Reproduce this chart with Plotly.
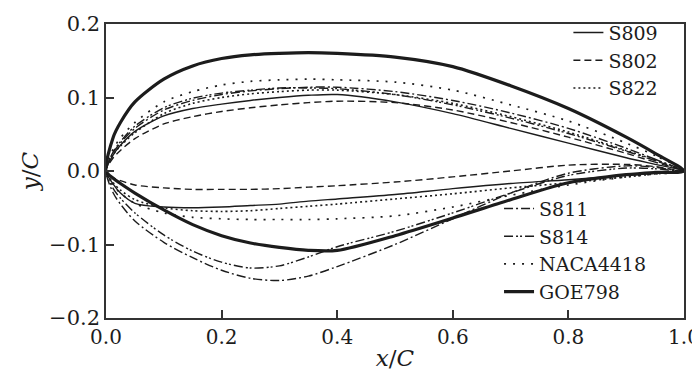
import plotly.graph_objects as go

# chordwise stations (x/C)
X = [0, 0.0125, 0.025, 0.05, 0.1, 0.15, 0.2, 0.25, 0.3, 0.35, 0.4, 0.5, 0.6, 0.7, 0.8, 0.9, 0.95, 1.0]

s809_upper = [0, 0.022, 0.035, 0.054, 0.075, 0.085, 0.091, 0.096, 0.100, 0.103, 0.104, 0.094, 0.078, 0.058, 0.038, 0.018, 0.009, 0]
s809_lower = [0, -0.018, -0.030, -0.044, -0.049, -0.050, -0.049, -0.047, -0.045, -0.041, -0.038, -0.032, -0.024, -0.017, -0.012, -0.006, -0.003, 0]

s802_upper = [0, 0.018, 0.028, 0.044, 0.064, 0.074, 0.081, 0.086, 0.090, 0.093, 0.095, 0.093, 0.083, 0.066, 0.046, 0.024, 0.012, 0]
s802_lower = [0, -0.009, -0.013, -0.019, -0.023, -0.025, -0.025, -0.025, -0.024, -0.022, -0.020, -0.015, -0.008, 0.000, 0.008, 0.009, 0.006, 0]

s822_upper = [0, 0.022, 0.034, 0.052, 0.078, 0.092, 0.100, 0.105, 0.108, 0.110, 0.110, 0.104, 0.092, 0.074, 0.053, 0.028, 0.015, 0]
s822_lower = [0, -0.016, -0.026, -0.039, -0.050, -0.054, -0.055, -0.054, -0.051, -0.048, -0.045, -0.038, -0.031, -0.023, -0.016, -0.008, -0.004, 0]

s811_upper = [0, 0.025, 0.038, 0.058, 0.083, 0.096, 0.104, 0.109, 0.112, 0.114, 0.114, 0.108, 0.096, 0.079, 0.058, 0.031, 0.016, 0]
s811_lower = [0, -0.030, -0.045, -0.068, -0.097, -0.118, -0.135, -0.146, -0.149, -0.143, -0.130, -0.100, -0.065, -0.030, -0.003, 0.007, 0.005, 0]

s814_upper = [0, 0.026, 0.040, 0.061, 0.086, 0.099, 0.106, 0.110, 0.113, 0.113, 0.112, 0.104, 0.090, 0.072, 0.051, 0.027, 0.014, 0]
s814_lower = [0, -0.024, -0.037, -0.057, -0.087, -0.109, -0.124, -0.132, -0.129, -0.117, -0.103, -0.082, -0.057, -0.030, -0.006, 0.004, 0.003, 0]

naca4418_upper = [0, 0.030, 0.045, 0.066, 0.094, 0.108, 0.117, 0.122, 0.124, 0.125, 0.124, 0.121, 0.110, 0.090, 0.068, 0.038, 0.021, 0]
naca4418_lower = [0, -0.020, -0.030, -0.044, -0.057, -0.063, -0.065, -0.066, -0.066, -0.066, -0.065, -0.061, -0.049, -0.033, -0.019, -0.008, -0.004, 0]

goe798_upper = [0, 0.046, 0.066, 0.094, 0.125, 0.143, 0.153, 0.158, 0.160, 0.161, 0.160, 0.155, 0.142, 0.116, 0.085, 0.046, 0.024, 0]
goe798_lower = [0, -0.010, -0.017, -0.030, -0.053, -0.073, -0.088, -0.098, -0.104, -0.108, -0.108, -0.088, -0.064, -0.039, -0.016, -0.005, -0.002, 0]

names = ["S809", "S802", "S822", "S811", "S814", "NACA4418", "GOE798"]
uppers = [s809_upper, s802_upper, s822_upper, s811_upper, s814_upper, naca4418_upper, goe798_upper]
lowers = [s809_lower, s802_lower, s822_lower, s811_lower, s814_lower, naca4418_lower, goe798_lower]

styles = {
    "S809": dict(dash="solid", width=1.4),
    "S802": dict(dash="7px,4px", width=1.4),
    "S822": dict(dash="2px,3px", width=1.6),
    "S811": dict(dash="9px,3px,2px,3px", width=1.4),
    "S814": dict(dash="9px,3px,2px,2px,2px,3px", width=1.4),
    "NACA4418": dict(dash="2px,7px", width=1.7),
    "GOE798": dict(dash="solid", width=3.2),
}
legend_of = {"S809": "legend", "S802": "legend", "S822": "legend",
             "S811": "legend2", "S814": "legend2", "NACA4418": "legend2", "GOE798": "legend2"}

ink = "#1c1c1c"
fig = go.Figure()
for name, up, lo in zip(names, uppers, lowers):
    xs = X[::-1] + X[1:]
    ys = up[::-1] + lo[1:]
    st = styles[name]
    fig.add_trace(go.Scatter(
        x=xs, y=ys, mode="lines", name=name, legend=legend_of[name],
        line=dict(color=ink, width=st["width"], dash=st["dash"], shape="spline", smoothing=0.8),
    ))

font_family = "DejaVu Serif"
axis_common = dict(
    showline=True, linecolor="#333333", linewidth=1.5, mirror=True,
    ticks="inside", ticklen=8, tickwidth=1.5, tickcolor="#333333",
    showgrid=False, zeroline=False, automargin=False,
    tickformat=".1f", ticklabeloverflow="allow",
)

fig.update_layout(
    width=700, height=378,
    margin=dict(l=98, r=24, t=16, b=68, autoexpand=False),
    paper_bgcolor="white", plot_bgcolor="white",
    font=dict(family=font_family, color=ink),
    xaxis=dict(range=[0, 1], dtick=0.2, tick0=0,
               tickfont=dict(family=font_family, size=20, color=ink),
               title=dict(text="<i>x</i>/<i>C</i>", font=dict(family=font_family, size=23), standoff=2),
               **axis_common),
    yaxis=dict(range=[-0.2, 0.2], dtick=0.1, tick0=0,
               tickfont=dict(family=font_family, size=21, color=ink),
               title=dict(text="<i>y</i>/<i>C</i>", font=dict(family=font_family, size=23), standoff=4),
               **axis_common),
    legend=dict(x=0.80, y=1.035, xanchor="left", yanchor="top",
                bgcolor="rgba(0,0,0,0)", font=dict(family=font_family, size=19, color=ink),
                itemwidth=30),
    legend2=dict(x=0.68, y=0.025, xanchor="left", yanchor="bottom",
                 bgcolor="rgba(0,0,0,0)", font=dict(family=font_family, size=19, color=ink),
                 itemwidth=30),
)

fig.write_html("out.html")
